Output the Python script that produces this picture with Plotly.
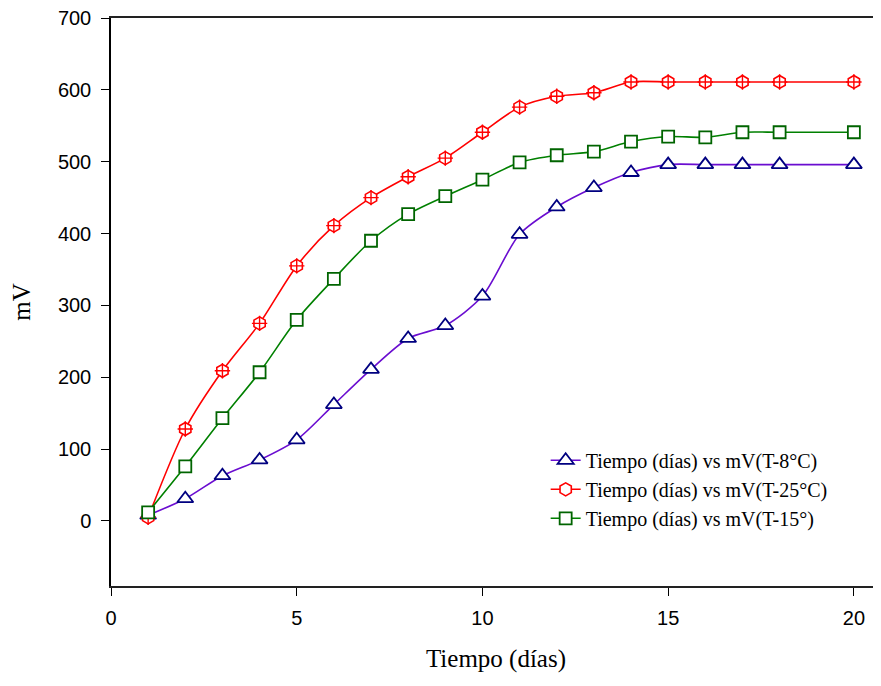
import plotly.graph_objects as go

dias = [1, 2, 3, 4, 5, 6, 7, 8, 9, 10, 11, 12, 13, 14, 15, 16, 17, 18, 20]
mv_t8 = [8, 31, 63, 85, 113, 162, 211, 254, 272, 313, 399, 437, 464, 485, 496, 496, 496, 496, 496]
mv_t25 = [5, 128, 209, 275, 355, 411, 450, 479, 505, 541, 576, 591, 596, 611, 611, 611, 611, 611, 611]
mv_t15 = [12, 76, 143, 207, 280, 337, 390, 427, 452, 475, 499, 509, 514, 528, 535, 534, 541, 541, 541]

names = ["Tiempo (días) vs mV(T-8°C)", "Tiempo (días) vs mV(T-25°C)", "Tiempo (días) vs mV(T-15°)"]

SERIF = "Liberation Serif, Times New Roman, serif"
SANS = "Liberation Sans, Arial, sans-serif"

fig = go.Figure()

fig.add_trace(go.Scatter(
    x=dias, y=mv_t8, name=names[0], mode="lines+markers",
    line=dict(color="#6A0DD0", width=1.6, shape="spline", smoothing=0.8),
    marker=dict(symbol="triangle-up", size=14, color="white",
                line=dict(color="#000080", width=1.8)),
))
fig.add_trace(go.Scatter(
    x=dias, y=mv_t25, name=names[1], mode="lines+markers",
    line=dict(color="#FF0000", width=1.6, shape="spline", smoothing=0.8),
    marker=dict(symbol="hexagon", size=13, color="white",
                line=dict(color="#FF0000", width=1.6)),
    legendgroup="r",
))
fig.add_trace(go.Scatter(
    x=dias, y=mv_t25, name=names[1], mode="markers", showlegend=False,
    marker=dict(symbol="cross-thin-open", size=11, color="#FF0000",
                line=dict(color="#FF0000", width=1.4)),
    legendgroup="r", hoverinfo="skip",
))
fig.add_trace(go.Scatter(
    x=dias, y=mv_t15, name=names[2], mode="lines+markers",
    line=dict(color="#008000", width=1.6, shape="spline", smoothing=0.8),
    marker=dict(symbol="square", size=12, color="white",
                line=dict(color="#006400", width=1.8)),
))

fig.update_layout(
    width=873, height=678, autosize=False,
    margin=dict(l=103, r=0, t=10, b=100, pad=0),
    paper_bgcolor="white", plot_bgcolor="white",
    showlegend=True,
    legend=dict(x=0.5645, y=0.2556, xanchor="left", yanchor="top",
                font=dict(family=SERIF, size=20, color="black"),
                bgcolor="rgba(0,0,0,0)", borderwidth=0, tracegroupgap=0),
    xaxis=dict(
        range=[0, 20.73], tickmode="array", tickvals=[0, 5, 10, 15, 20],
        ticks="outside", ticklen=8, tickwidth=1.2, tickcolor="black",
        showline=True, linecolor="#222222", linewidth=2, mirror=True,
        showgrid=False, zeroline=False, automargin=False,
        tickfont=dict(family=SANS, size=20, color="black"),
        ticklabelstandoff=5, ticklabeloverflow="allow",
        title=dict(text="Tiempo (días)", font=dict(family=SERIF, size=25, color="black"), standoff=21),
    ),
    yaxis=dict(
        range=[-90.5, 700], tickmode="array", tickvals=[0, 100, 200, 300, 400, 500, 600, 700],
        ticks="outside", ticklen=8, tickwidth=1.2, tickcolor="black",
        showline=True, linecolor="black", linewidth=1.5, mirror=False,
        showgrid=False, zeroline=False, automargin=False,
        tickfont=dict(family=SANS, size=20, color="black"),
        ticklabelstandoff=6, ticklabeloverflow="allow",
        title=dict(text="mV", font=dict(family=SERIF, size=25, color="black"), standoff=20),
    ),
)

fig.write_html("out.html")
